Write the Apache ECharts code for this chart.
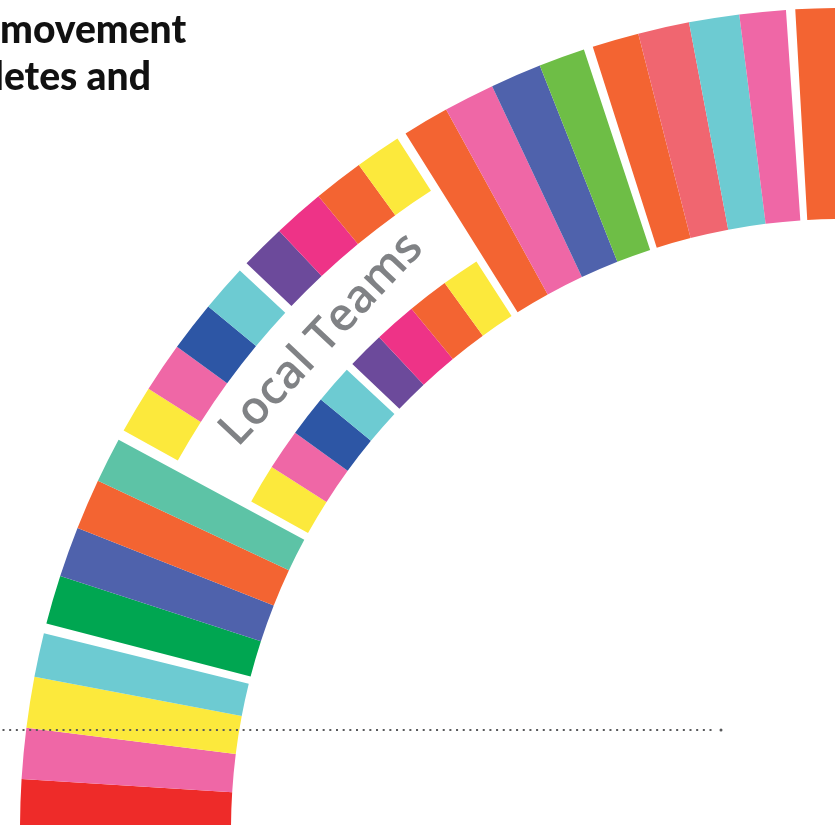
<!DOCTYPE html>
<html>
<head>
<meta charset="utf-8">
<script src="https://cdn.jsdelivr.net/npm/echarts@6/dist/echarts.min.js"></script>
<style>
  html, body { margin: 0; padding: 0; background: #ffffff; }
  #chart { width: 835px; height: 825px; }
</style>
</head>
<body>
<div id="chart"></div>
<script>
// ---------- DATA (angular widths in degrees, measured from the left horizontal, going up) ----------
// Main ring segments (full band)
const ringSegments = ['Red', 'Pink', 'Yellow', 'Teal', '(gap)',
                      'Green', 'Indigo', 'Orange', 'Mint', '(gap)',
                      '(Local Teams)',
                      'Orange', 'Pink', 'Indigo', 'Lime', '(gap)',
                      'Orange', 'Salmon', 'Teal', 'Pink', '(gap)',
                      'Orange'];
const ringWidths = [3.55, 3.60, 3.60, 3.10, 0.70,
                    3.45, 3.56, 3.59, 3.20, 0.73,
                    28.85,
                    3.28, 3.60, 3.62, 3.27, 0.65,
                    3.30, 3.62, 3.55, 3.27, 0.65,
                    3.60];

// Local Teams segments (drawn twice: outer and inner sub-band)
const localSegments = ['(offset)', 'Yellow', 'Pink', 'Blue', 'Teal', '(gap)',
                       'Purple', 'Magenta', 'Orange', 'Yellow'];
const localWidths = [29.08, 3.39, 3.53, 3.56, 3.34, 0.68,
                     3.21, 3.65, 3.56, 3.26];

const localLabel = 'Local Teams';
const titleLines = ['movement', 'letes and'];

// ---------- STYLE ----------
const palette = {
  Red: '#EE2B29', Pink: '#EF67A6', Yellow: '#FCE93C', Teal: '#6DCBD2',
  Green: '#00A651', Indigo: '#4F62AC', Orange: '#F36432', Mint: '#5DC3A6',
  Blue: '#2D56A5', Purple: '#6C4A9B', Magenta: '#EE3387', Salmon: '#F06670',
  Lime: '#6EBE46'
};
const CENTER = [842, 830];
const polars = [
  { center: CENTER, radius: [611, 822] },   // main ring
  { center: CENTER, radius: [760, 822] },   // local teams outer sub-band
  { center: CENTER, radius: [611, 676] }    // local teams inner sub-band
];

function makeSeries(names, widths, polarIndex) {
  return names.map((n, i) => ({
    type: 'bar',
    coordinateSystem: 'polar',
    polarIndex: polarIndex,
    stack: 'ring' + polarIndex,
    name: n,
    data: [widths[i]],
    barWidth: '100%',
    barCategoryGap: '0%',
    silent: true,
    itemStyle: { color: palette[n] || 'rgba(0,0,0,0)' }
  }));
}

const series = []
  .concat(makeSeries(ringSegments, ringWidths, 0))
  .concat(makeSeries(localSegments, localWidths, 1))
  .concat(makeSeries(localSegments, localWidths, 2));

// label position along the gap between Local Teams sub-bands
const labelAngle = 43.3, labelRadius = 715;
const rad = labelAngle * Math.PI / 180;
const labelX = CENTER[0] - labelRadius * Math.cos(rad);
const labelY = CENTER[1] - labelRadius * Math.sin(rad);

const chart = echarts.init(document.getElementById('chart'), null, { renderer: 'canvas' });
chart.setOption({
  animation: false,
  backgroundColor: '#ffffff',
  polar: polars,
  angleAxis: polars.map((p, i) => ({
    polarIndex: i, type: 'value', min: 0, max: 360,
    startAngle: 180, clockwise: true, show: false
  })),
  radiusAxis: polars.map((p, i) => ({
    polarIndex: i, type: 'category', data: ['band'], show: false
  })),
  series: series,
  graphic: [
    {
      type: 'text', x: 0, y: 30, z: 100,
      style: { text: titleLines[0], font: '900 39px Lato', fill: '#111111', align: 'left', verticalAlign: 'middle' }
    },
    {
      type: 'text', x: -6, y: 77, z: 100,
      style: { text: titleLines[1], font: '900 39px Lato', fill: '#111111', align: 'left', verticalAlign: 'middle' }
    },
    {
      type: 'text', x: labelX, y: labelY, rotation: (90 - labelAngle) * Math.PI / 180, z: 100,
      style: { text: localLabel, font: '600 46px "Open Sans"', fill: '#808285', align: 'center', verticalAlign: 'middle' }
    },
    {
      type: 'line', z: 100,
      shape: { x1: 2.5, y1: 730, x2: 714, y2: 730 },
      style: { stroke: '#58595b', lineWidth: 2, lineDash: [2, 4.67] }
    },
    {
      type: 'circle', z: 100,
      shape: { cx: 721, cy: 730, r: 1.5 },
      style: { fill: '#58595b' }
    }
  ]
});
</script>
</body>
</html>
